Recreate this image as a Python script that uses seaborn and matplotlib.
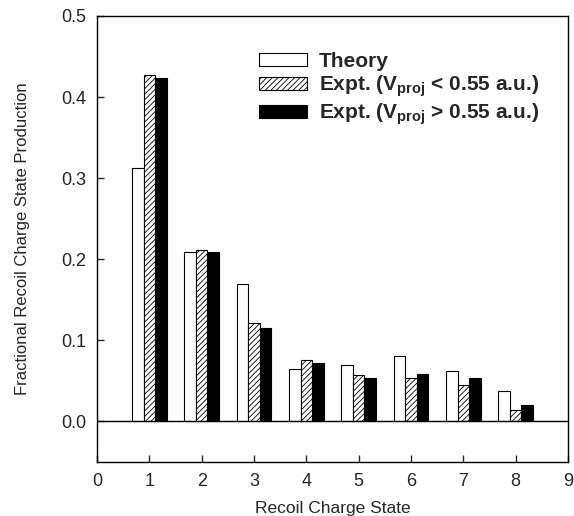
import matplotlib
matplotlib.use("Agg")
import matplotlib.pyplot as plt
import seaborn as sns
import pandas as pd

# recoil charge states and fractional production
charge_states = [1, 2, 3, 4, 5, 6, 7, 8]
theory = [0.313, 0.209, 0.169, 0.065, 0.069, 0.081, 0.062, 0.037]
expt_low = [0.427, 0.211, 0.121, 0.075, 0.057, 0.053, 0.045, 0.014]
expt_high = [0.423, 0.209, 0.115, 0.072, 0.054, 0.058, 0.053, 0.020]
series_names = ["Theory",
                r"Expt. ($\mathbf{V_{proj}}$ < 0.55 a.u.)",
                r"Expt. ($\mathbf{V_{proj}}$ > 0.55 a.u.)"]

df = pd.DataFrame({
    "state": charge_states * 3,
    "frac": theory + expt_low + expt_high,
    "series": [series_names[0]] * 8 + [series_names[1]] * 8 + [series_names[2]] * 8,
})

sns.set_style("ticks")
plt.rcParams["font.family"] = ["Liberation Sans", "DejaVu Sans"]
plt.rcParams["mathtext.fontset"] = "custom"
plt.rcParams["mathtext.rm"] = "Liberation Sans"
plt.rcParams["mathtext.bf"] = "Liberation Sans:bold"
plt.rcParams["hatch.linewidth"] = 0.6

fig = plt.figure(figsize=(5.74, 5.16), dpi=100)
ax = fig.add_axes([0.169, 0.105, 0.8205, 0.864])

sns.barplot(data=df, x="state", y="frac", hue="series", native_scale=True,
            palette=["white", "white", "black"], width=0.66, gap=0,
            edgecolor="black", linewidth=0.8, ax=ax, legend=False)

for p in ax.containers[1]:
    p.set_hatch("//////")

ax.axhline(0, color="black", lw=1)
ax.set_xlim(0, 9)
ax.set_ylim(-0.05, 0.5)
ax.set_xticks(range(10))
ax.set_yticks([0.0, 0.1, 0.2, 0.3, 0.4, 0.5])
ax.set_yticklabels(["0.0", "0.1", "0.2", "0.3", "0.4", "0.5"])
ax.tick_params(direction="in", length=5, width=1, labelsize=13, pad=8)
for s in ax.spines.values():
    s.set_linewidth(1)
    s.set_color("black")

ax.set_xlabel("Recoil Charge State", fontsize=12.5, labelpad=8)
ax.set_ylabel("Fractional Recoil Charge State Production", fontsize=12, labelpad=22)

leg = ax.legend(handles=list(ax.containers), labels=series_names,
                loc="upper left", bbox_to_anchor=(0.305, 0.962), frameon=False,
                prop={"weight": "bold", "size": 15}, handlelength=2.3,
                handleheight=0.6, handletextpad=0.55, labelspacing=0.13)

fig.savefig("out.png", dpi=100)
